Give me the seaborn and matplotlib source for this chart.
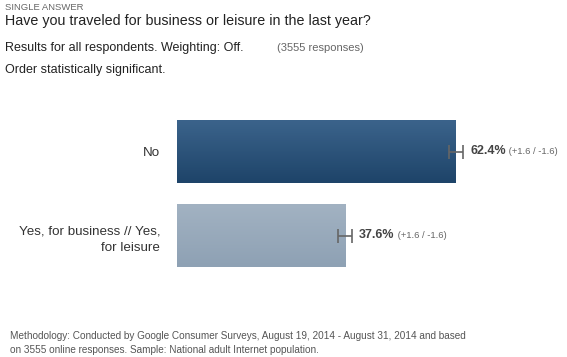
import numpy as np
import pandas as pd
import matplotlib
matplotlib.use("Agg")
import matplotlib.pyplot as plt
import seaborn as sns
from matplotlib.colors import LinearSegmentedColormap

categories = ["No", "Yes, for business // Yes,\nfor leisure"]
values = [62.4, 37.6]
err_plus = [1.6, 1.6]
err_minus = [1.6, 1.6]

sns.set_theme(style="white")
plt.rcParams['font.family'] = ['Liberation Sans', 'DejaVu Sans']

W, H = 567, 357
fig = plt.figure(figsize=(W / 100, H / 100), dpi=100)
ax = fig.add_axes([177 / W, 1 - 277.5 / H, (567 - 177) / W, 168 / H])

df = pd.DataFrame({"cat": categories, "val": values})
sns.barplot(data=df, x="val", y="cat", ax=ax, orient="h", width=0.75,
            palette=["#2c5179", "#98aabd"], hue="cat", legend=False,
            saturation=1, edgecolor="none")

grads = [("#3b638b", "#1e4469"), ("#a2b2c2", "#8ea1b4")]
for patch, (c1, c2) in zip(ax.patches, grads):
    cmap = LinearSegmentedColormap.from_list("g", [c1, c2])
    x0, y0 = patch.get_x(), patch.get_y()
    w, h = patch.get_width(), patch.get_height()
    im = ax.imshow(np.linspace(0, 1, 64).reshape(-1, 1), cmap=cmap, aspect="auto",
                   extent=[x0, x0 + w, y0 + h, y0], zorder=2, interpolation="bilinear")
    im.set_clip_path(patch)
    patch.set_zorder(1)

ypos = np.arange(len(values))
ax.errorbar(values, ypos, xerr=[err_minus, err_plus], fmt="none", ecolor="#666666",
            elinewidth=1.2, capsize=5, capthick=1.2, zorder=3)

for v, y, ep, em in zip(values, ypos, err_plus, err_minus):
    t = ax.annotate(f"{v:.1f}%", xy=(v + ep, y), xytext=(5, 0), textcoords="offset points",
                    va="center", ha="left", fontsize=9, fontweight="bold", color="#444444",
                    annotation_clip=False)
    fig.canvas.draw()
    ax.annotate(f" (+{ep:.1f} / -{em:.1f})", xy=(1, 0.5), xycoords=t, va="center", ha="left",
                fontsize=6.8, color="#666666", annotation_clip=False)

ax.set_xlim(0, (567 - 177) / 4.47)
ax.set_ylim(1.5, -0.5)
ax.set_xlabel("")
ax.set_ylabel("")
ax.set_xticks([])
ax.tick_params(axis="y", length=0, pad=12)
for lab in ax.get_yticklabels():
    lab.set_fontsize(9.6)
    lab.set_color("#333333")
    lab.set_multialignment("right")
    lab.set_linespacing(1.55)
for s in ax.spines.values():
    s.set_visible(False)

fig.text(5 / W, 1 - 7 / H, "SINGLE ANSWER", fontsize=6.8, color="#666666", va="center")
fig.text(5 / W, 1 - 21 / H, "Have you traveled for business or leisure in the last year?",
         fontsize=10.3, color="#222222", va="center")
fig.text(5 / W, 1 - 48 / H, "Results for all respondents. Weighting: Off.", fontsize=9,
         color="#222222", va="center")
fig.text(277 / W, 1 - 48 / H, "(3555 responses)", fontsize=8, color="#666666", va="center")
fig.text(5 / W, 1 - 70 / H, "Order statistically significant.", fontsize=9,
         color="#222222", va="center")
fig.text(10 / W, 1 - 336 / H,
         "Methodology: Conducted by Google Consumer Surveys, August 19, 2014 - August 31, 2014 and based",
         fontsize=7.2, color="#555555", va="center")
fig.text(10 / W, 1 - 350 / H, "on 3555 online responses. Sample: National adult Internet population.",
         fontsize=7.2, color="#555555", va="center")

fig.savefig("out.png", dpi=100)
